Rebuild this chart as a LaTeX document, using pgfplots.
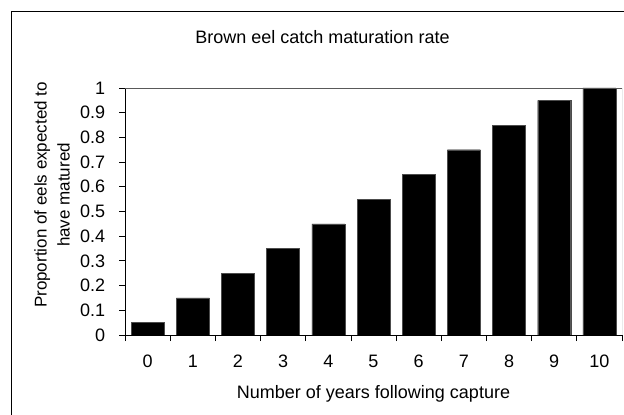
\documentclass[border=0pt]{standalone}
\usepackage{pgfplots}
\pgfplotsset{compat=1.18}
\usepackage{fontspec}
\setmainfont{Liberation Sans}
\begin{document}
\fontsize{17}{23}\selectfont
\begin{tikzpicture}[x=1pt,y=1pt]
\useasboundingbox (0,0) rectangle (624,415);
\draw[black, line width=1pt] (11.5,-20) -- (11.5,403) -- (700,403);
\node[anchor=base, font=\fontsize{18}{21}\selectfont] at (322.5,371) {Brown eel catch maturation rate};
\node[rotate=90, align=center] at (52,220) {Proportion of eels expected to\\have matured};
\begin{axis}[
  at={(125pt,80pt)}, anchor=south west,
  scale only axis, width=497pt, height=247pt,
  xmin=-0.5, xmax=10.5, ymin=0, ymax=1,
  axis x line*=bottom, axis y line*=left,
  axis line style={black, line width=0.8pt},
  ybar, bar width=33pt, bar shift=0pt,
  xtick={0,...,10},
  major x tick style={draw=none},
  minor xtick={-0.5,0.5,...,10.5},
  minor x tick style={draw=black, line width=0.8pt},
  minor tick length=6pt,
  ytick={0,0.1,...,1.0},
  yticklabels={0,0.1,0.2,0.3,0.4,0.5,0.6,0.7,0.8,0.9,1},
  major tick length=6pt,
  tick align=outside,
  y tick style={black, line width=0.8pt},
  /pgf/number format/assume math mode=true,
  ticklabel style={font=\fontsize{18}{21}\selectfont},
  yticklabel style={xshift=-8pt},
  xticklabel style={yshift=-8pt},
  xlabel={Number of years following capture},
  xlabel style={at={(axis description cs:0.5,0)}, anchor=base, yshift=-63pt, font=\fontsize{18}{21}\selectfont},
]
\addplot[fill=black, draw=black!70] coordinates {
(0,0.05) (1,0.15) (2,0.25) (3,0.35) (4,0.45) (5,0.55) (6,0.65) (7,0.75) (8,0.85) (9,0.95) (10,1.0)
};
\draw[black!65, line width=0.8pt] (rel axis cs:0,1) -- (rel axis cs:1,1) -- (rel axis cs:1,0);
\end{axis}
\end{tikzpicture}
\end{document}
